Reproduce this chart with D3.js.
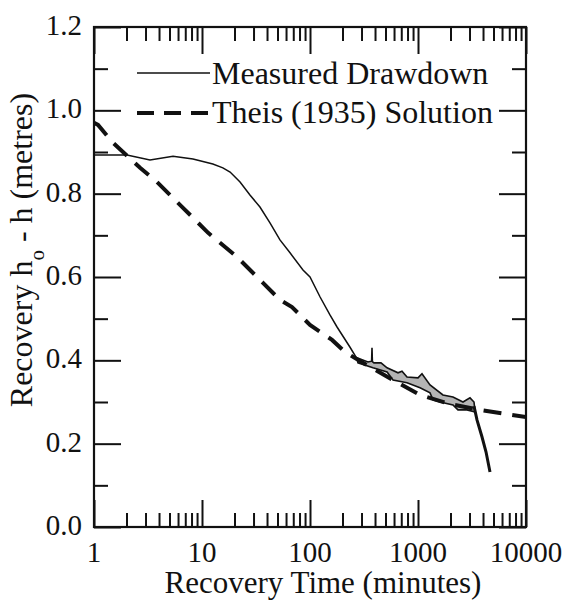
<!DOCTYPE html>
<html>
<head>
<meta charset="utf-8">
<script src="https://cdn.jsdelivr.net/npm/d3@7"></script>
<style>
  body { margin: 0; background: #fff; }
  svg { display: block; }
</style>
</head>
<body>
<svg id="chart" width="565" height="607"></svg>
<script>
// Axis tick values
const xTicks = [1, 10, 100, 1000, 10000];
const xTickLabels = ["1", "10", "100", "1000", "10000"];
const yTicks = [0, 0.2, 0.4, 0.6, 0.8, 1.0, 1.2];
const yTickLabels = ["0.0", "0.2", "0.4", "0.6", "0.8", "1.0", "1.2"];

// Measured recovery, early smooth part (minutes, metres)
const measuredTime = [1.0, 1.14, 2.02, 3.30, 5.39, 8.25, 12.6, 15.6, 18.2, 22.5, 27.8, 34.4, 42.6, 52.7, 65.3, 86.1, 100, 124, 153, 178, 234, 272];
const measuredHead = [0.893, 0.893, 0.893, 0.881, 0.890, 0.883, 0.871, 0.862, 0.852, 0.828, 0.797, 0.768, 0.730, 0.689, 0.658, 0.617, 0.600, 0.552, 0.509, 0.480, 0.432, 0.404];

// Measured recovery, noisy late part: upper and lower envelope of the scatter
const upperTime = [272, 344, 372, 375, 378, 391, 454, 517, 653, 711, 791, 1000, 1089, 1292, 1702, 2108, 2610, 3030, 3300];
const upperHead = [0.406, 0.396, 0.398, 0.430, 0.397, 0.394, 0.394, 0.382, 0.370, 0.374, 0.360, 0.358, 0.368, 0.341, 0.317, 0.312, 0.300, 0.310, 0.300];
const lowerTime = [278, 383, 517, 587, 791, 1044, 1292, 1377, 1600, 2108, 2344, 2844, 3375];
const lowerHead = [0.394, 0.382, 0.372, 0.353, 0.346, 0.334, 0.322, 0.305, 0.300, 0.293, 0.281, 0.281, 0.276];

// Measured recovery, final drop
const dropTime = [3300, 3517, 3916, 4266, 4642];
const dropHead = [0.290, 0.257, 0.216, 0.180, 0.132];

// Theis (1935) solution
const theisTime = [1.0, 1.09, 1.50, 2.67, 3.83, 6.67, 11.4, 21.1, 36.7, 52.7, 68.1, 100, 160, 211, 323, 612, 1044, 1977, 3750, 7413, 10000];
const theisHead = [0.970, 0.965, 0.922, 0.862, 0.828, 0.766, 0.706, 0.648, 0.586, 0.545, 0.528, 0.485, 0.449, 0.420, 0.391, 0.350, 0.317, 0.295, 0.281, 0.269, 0.264];

const FONT = "Liberation Serif";
const svg = d3.select("#chart").attr("font-family", FONT);
const L = 94, R = 526, T = 27, B = 527;

const x = d3.scaleLog().domain([1, 10000]).range([L, R]);
const y = d3.scaleLinear().domain([0, 1.2]).range([B, T]);

const zip = (ts, hs) => ts.map((t, i) => [t, hs[i]]);
const line = d3.line().x(d => x(d[0])).y(d => y(d[1]));

// Clip to plot frame
svg.append("clipPath").attr("id", "plotclip")
  .append("rect").attr("x", L).attr("y", T).attr("width", R - L).attr("height", B - T);

const plot = svg.append("g").attr("clip-path", "url(#plotclip)");

// Noisy band of late-time measurements
const band = zip(upperTime, upperHead).concat(zip(lowerTime, lowerHead).reverse());
plot.append("path")
  .attr("d", line(band) + "Z")
  .attr("fill", "#b4b4b4")
  .attr("stroke", "#111")
  .attr("stroke-width", 1.6)
  .attr("stroke-linejoin", "miter");

// Early measured curve
plot.append("path")
  .attr("d", line(zip(measuredTime, measuredHead)))
  .attr("fill", "none").attr("stroke", "#111").attr("stroke-width", 1.5);

// Final drop
plot.append("path")
  .attr("d", line(zip(dropTime, dropHead)))
  .attr("fill", "none").attr("stroke", "#111").attr("stroke-width", 3);

// Theis solution (dashed)
plot.append("path")
  .attr("d", line(zip(theisTime, theisHead)))
  .attr("fill", "none").attr("stroke", "#111").attr("stroke-width", 4)
  .attr("stroke-dasharray", "18,11");

// Axes with inward ticks
const minorX = [];
for (let d = 1; d < 10000; d *= 10) for (let k = 2; k <= 9; k++) minorX.push(d * k);
const minorY = [0.1, 0.3, 0.5, 0.7, 0.9, 1.1];

const major = 27, minor = 14;

function xAxis(g, scale, dir) {
  g.append("g").call(d3.axisBottom(scale).tickValues(xTicks).tickSize(dir * major).tickFormat(""));
  g.append("g").call(d3.axisBottom(scale).tickValues(minorX).tickSize(dir * minor).tickFormat(""));
}
function yAxis(g, scale, dir) {
  g.append("g").call(d3.axisLeft(scale).tickValues(yTicks).tickSize(dir * major).tickFormat(""));
  g.append("g").call(d3.axisLeft(scale).tickValues(minorY).tickSize(dir * minor).tickFormat(""));
}

const gB = svg.append("g").attr("transform", `translate(0,${B})`); xAxis(gB, x, -1);
const gT = svg.append("g").attr("transform", `translate(0,${T})`); xAxis(gT, x, 1);
const gL = svg.append("g").attr("transform", `translate(${L},0)`); yAxis(gL, y, -1);
const gR = svg.append("g").attr("transform", `translate(${R},0)`); yAxis(gR, y, 1);

svg.selectAll(".domain").remove();
svg.selectAll(".tick line").attr("stroke", "#111").attr("stroke-width", 2);

// Frame
svg.append("rect").attr("x", L).attr("y", T).attr("width", R - L).attr("height", B - T)
  .attr("fill", "none").attr("stroke", "#111").attr("stroke-width", 2.2);

// Tick labels
svg.append("g").selectAll("text").data(xTicks).join("text")
  .attr("x", d => x(d)).attr("y", 562)
  .attr("text-anchor", "middle").attr("font-size", 29)
  .attr("font-family", FONT).attr("fill", "#111")
  .text((d, i) => xTickLabels[i]);

svg.append("g").selectAll("text").data(yTicks).join("text")
  .attr("x", 82).attr("y", d => y(d) + 8)
  .attr("text-anchor", "end").attr("font-size", 29)
  .attr("font-family", FONT).attr("fill", "#111")
  .text((d, i) => yTickLabels[i]);

// Axis titles
svg.append("text").attr("x", 323).attr("y", 593)
  .attr("text-anchor", "middle").attr("font-size", 31)
  .attr("font-family", FONT).attr("fill", "#111")
  .text("Recovery Time (minutes)");

const yt = svg.append("text")
  .attr("transform", "translate(32,250) rotate(-90)")
  .attr("text-anchor", "middle").attr("font-size", 32)
  .attr("font-family", FONT).attr("fill", "#111");
yt.append("tspan").text("Recovery h");
yt.append("tspan").attr("font-size", 21).attr("dy", 12).text("o");
yt.append("tspan").attr("dy", -12).text(" - h (metres)");

// Legend
const legend = svg.append("g");
legend.append("line").attr("x1", 137).attr("x2", 210).attr("y1", 73).attr("y2", 73)
  .attr("stroke", "#111").attr("stroke-width", 1.5);
legend.append("text").attr("x", 212).attr("y", 84).attr("font-size", 32)
  .attr("font-family", FONT).attr("fill", "#111").text("Measured Drawdown");
legend.append("line").attr("x1", 137).attr("x2", 210).attr("y1", 113).attr("y2", 113)
  .attr("stroke", "#111").attr("stroke-width", 4).attr("stroke-dasharray", "17,10");
legend.append("text").attr("x", 212).attr("y", 123).attr("font-size", 32)
  .attr("font-family", FONT).attr("fill", "#111").text("Theis (1935) Solution");
</script>
</body>
</html>
